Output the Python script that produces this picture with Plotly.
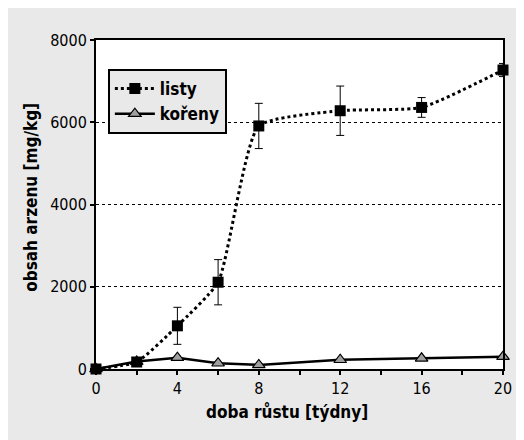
import plotly.graph_objects as go

weeks = [0, 2, 4, 6, 8, 12, 16, 20]
listy = [0, 170, 1050, 2110, 5910, 6280, 6360, 7270]
listy_err = [0, 0, 450, 550, 550, 600, 240, 160]
koreny = [0, 180, 275, 140, 100, 225, 260, 300]
koreny_err = [0, 20, 30, 20, 20, 30, 40, 40]

x_tickvals = [0, 2, 4, 6, 8, 10, 12, 14, 16, 18, 20]
x_ticktext = ["0", "", "4", "", "8", "", "12", "", "16", "", "20"]
y_tickvals = [0, 2000, 4000, 6000, 8000]

FONT = "DejaVu Sans Condensed, Liberation Sans Narrow, sans-serif"

fig = go.Figure()
fig.add_trace(go.Scatter(
    x=weeks, y=koreny, name="kořeny", mode="lines+markers",
    line=dict(color="black", width=2.5, shape="linear"),
    marker=dict(symbol="triangle-up", size=11, color="#a0a0a0",
                line=dict(color="black", width=1.2)),
    error_y=dict(type="data", array=koreny_err, color="black", thickness=1, width=3),
    cliponaxis=False,
))
fig.add_trace(go.Scatter(
    x=weeks, y=listy, name="listy", mode="lines+markers",
    line=dict(color="black", width=3, dash="dot", shape="spline", smoothing=0.5),
    marker=dict(symbol="square", size=11, color="black"),
    error_y=dict(type="data", array=listy_err, color="black", thickness=1, width=4),
    cliponaxis=False,
))

# page has 8px body margin; figure origin at window (8, 8)
W, H = 516, 432
L, T = 88, 32
R = W - 500
B = H - 361
pw, ph = 412, 329

def px_x(p):
    return (p - 96) / pw

def px_y(p):
    return (369 - p) / ph

fig.update_layout(
    width=W, height=H,
    margin=dict(l=L, r=R, t=T, b=B),
    paper_bgcolor="#e9e9e9", plot_bgcolor="white",
    font=dict(family=FONT, color="black", size=15),
    showlegend=True,
    legend=dict(
        x=px_x(108), y=px_y(69), xanchor="left", yanchor="top",
        bgcolor="#e9e9e9", bordercolor="black", borderwidth=2,
        font=dict(family=FONT, size=17, color="black", weight="bold"),
        traceorder="reversed",
        itemwidth=40,
    ),
    xaxis=dict(
        range=[0, 20], tickvals=x_tickvals, ticktext=x_ticktext,
        ticks="outside", ticklen=4, tickwidth=1.5, tickcolor="black",
        showline=True, linecolor="black", linewidth=2, mirror=True,
        showgrid=False, zeroline=False,
        tickfont=dict(family=FONT, size=16),
    ),
    yaxis=dict(
        range=[0, 8000], tickvals=y_tickvals, tickformat="d",
        ticks="outside", ticklen=4, tickwidth=1.5, tickcolor="black",
        showline=True, linecolor="black", linewidth=2, mirror=True,
        showgrid=True, gridcolor="black", gridwidth=0.8, griddash="dot",
        zeroline=False,
        tickfont=dict(family=FONT, size=16),
    ),
    annotations=[
        dict(text="doba růstu [týdny]", xref="paper", yref="paper",
             x=px_x(289), y=px_y(411), xanchor="center", yanchor="middle",
             showarrow=False, font=dict(family=FONT, size=17, weight="bold")),
        dict(text="obsah arzenu [mg/kg]", xref="paper", yref="paper",
             x=px_x(30), y=px_y(197), xanchor="center", yanchor="middle",
             textangle=-90, showarrow=False,
             font=dict(family=FONT, size=17, weight="bold")),
    ],
)

fig.write_html("out.html", config={"displayModeBar": False})
